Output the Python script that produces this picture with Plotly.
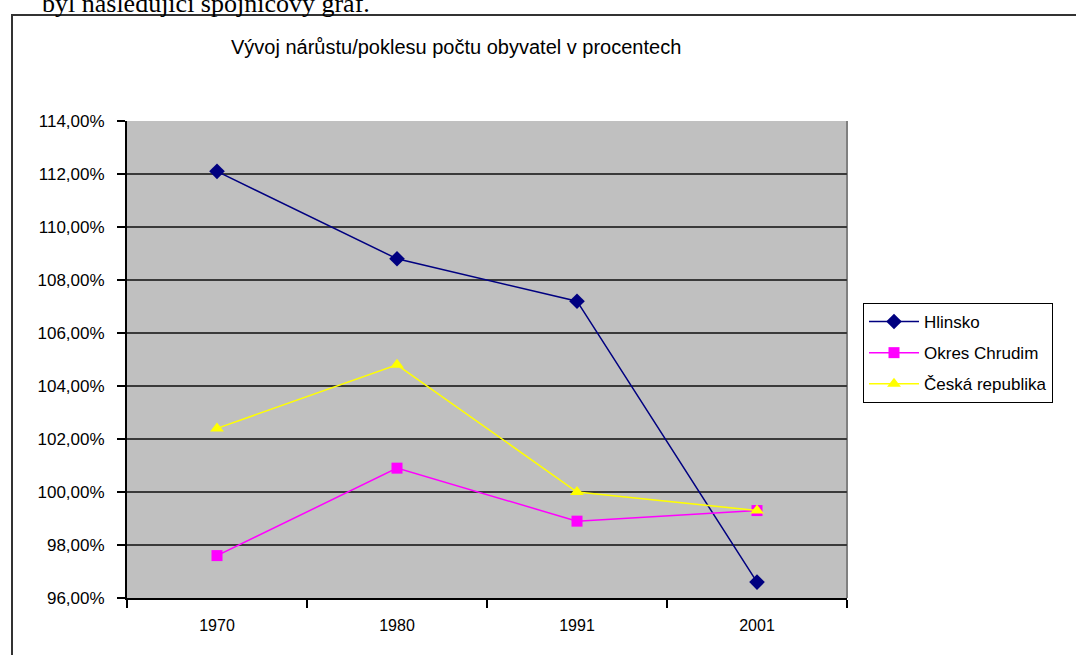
import plotly.graph_objects as go

years = ["1970", "1980", "1991", "2001"]
hlinsko = [112.1, 108.8, 107.2, 96.6]
okres_chrudim = [97.6, 100.9, 98.9, 99.3]
ceska_republika = [102.4, 104.8, 100.0, 99.3]

series_names = ["Hlinsko", "Okres Chrudim", "Česká republika"]
title_text = "Vývoj nárůstu/poklesu počtu obyvatel v procentech"
doc_text = "byl následující spojnicový graf."

W, H = 1076, 655
L, R, T, B = 127, 847, 121, 598
pw, ph = R - L, B - T


def px(x):
    return (x - L) / pw


def py(y):
    return (B - y) / ph


FONT = "Liberation Sans, Arial, sans-serif"

fig = go.Figure()
fig.add_trace(go.Scatter(
    x=years, y=hlinsko, name=series_names[0], mode="lines+markers",
    line=dict(color="#000080", width=1.5),
    marker=dict(symbol="diamond", size=12, color="#000080"),
    legendgroup="a"))
fig.add_trace(go.Scatter(
    x=years, y=okres_chrudim, name=series_names[1], mode="lines+markers",
    line=dict(color="#FF00FF", width=1.5),
    marker=dict(symbol="square", size=11, color="#FF00FF"),
    legendgroup="b"))
fig.add_trace(go.Scatter(
    x=years, y=ceska_republika, name=series_names[2], mode="lines+markers",
    line=dict(color="#FFFF00", width=1.5),
    marker=dict(symbol="triangle-up", size=12, color="#FFFF00"),
    legendgroup="c"))

fig.update_layout(
    width=W, height=H,
    margin=dict(l=L, r=W - R, t=T, b=H - B, pad=0),
    paper_bgcolor="white",
    plot_bgcolor="#C0C0C0",
    separators=", ",
    font=dict(family=FONT, color="black", size=16),
    showlegend=True,
    legend=dict(
        x=px(863), y=py(303), xanchor="left", yanchor="top",
        bgcolor="white", bordercolor="black", borderwidth=1,
        font=dict(family=FONT, size=17, color="black"),
        tracegroupgap=6, traceorder="grouped", itemwidth=50,
    ),
    annotations=[
        dict(text=title_text, xref="paper", yref="paper",
             x=px(456), y=py(47), xanchor="center", yanchor="middle",
             showarrow=False, font=dict(family=FONT, size=20, color="black")),
        dict(text=doc_text, xref="paper", yref="paper",
             x=px(372), y=py(20), xanchor="right", yanchor="bottom",
             showarrow=False,
             font=dict(family="Liberation Serif, Times New Roman, serif", size=26, color="black")),
    ],
    shapes=[
        dict(type="rect", xref="paper", yref="paper",
             x0=px(12), x1=px(1090), y0=py(680), y1=py(15),
             line=dict(color="#333333", width=2), fillcolor="rgba(0,0,0,0)", layer="below"),
        dict(type="line", xref="paper", yref="paper",
             x0=1, x1=1, y0=0, y1=1,
             line=dict(color="#808080", width=2), layer="below"),
    ],
)

fig.update_xaxes(
    type="category", range=[-0.5, 3.5],
    showgrid=False, zeroline=False,
    showline=True, linecolor="black", linewidth=2,
    ticks="outside", tickson="boundaries", ticklen=8, tickwidth=2, tickcolor="black",
    ticklabelstandoff=12,
    tickfont=dict(family=FONT, size=16, color="black"),
)
fig.update_yaxes(
    range=[96, 114], dtick=2, tick0=96,
    tickformat=".2f", ticksuffix="%",
    showgrid=True, gridcolor="#3a3a3a", gridwidth=2,
    zeroline=False,
    showline=True, linecolor="black", linewidth=2,
    ticks="outside", ticklen=8, tickwidth=2, tickcolor="black",
    ticklabelstandoff=9,
    tickfont=dict(family=FONT, size=17, color="black"),
)

fig.write_html("out.html", config={"displayModeBar": False},
               post_script="document.body.style.margin='0px';")
